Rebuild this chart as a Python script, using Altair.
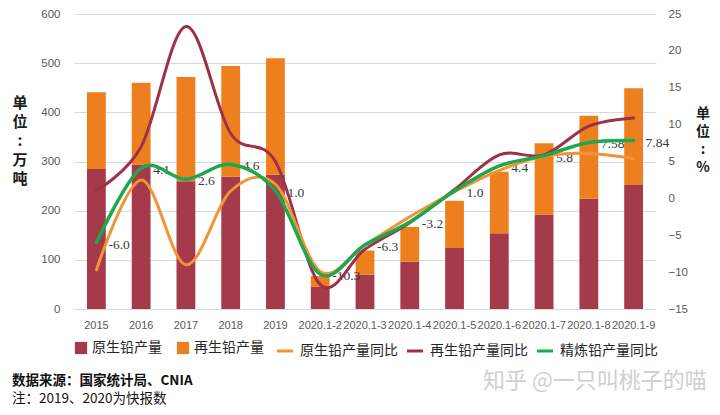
import altair as alt
import pandas as pd

categories = ["2015", "2016", "2017", "2018", "2019", "2020.1-2", "2020.1-3", "2020.1-4",
              "2020.1-5", "2020.1-6", "2020.1-7", "2020.1-8", "2020.1-9"]
primary_output = [285, 294, 260, 269, 273, 45, 70, 96, 124, 154, 192, 224, 252]
recycled_output = [156, 166, 212, 225, 237, 22, 49, 71, 96, 125, 145, 169, 197]
primary_yoy = [-9.7, 2.5, -9.0, 1.0, 1.9, -9.9, -6.3, -2.5, 0.9, 3.8, 5.7, 6.1, 5.4]
recycled_yoy = [1.1, 7.0, 23.3, 8.8, 5.0, -11.7, -6.9, -3.3, 1.2, 5.9, 5.9, 9.8, 10.9]
refined_yoy = [-6.0, 4.1, 2.6, 4.6, 1.0, -10.3, -6.3, -3.2, 1.0, 4.4, 5.8, 7.58, 7.84]
refined_labels = ["-6.0", "4.1", "2.6", "4.6", "1.0", "-10.3", "-6.3", "-3.2", "1.0",
                  "4.4", "5.8", "7.58", "7.84"]

bar_names = ["原生铅产量", "再生铅产量"]
line_names = ["原生铅产量同比", "再生铅产量同比", "精炼铅产量同比"]

bars_df = pd.DataFrame(
    [{"cat": c, "type": bar_names[0], "value": v} for c, v in zip(categories, primary_output)]
    + [{"cat": c, "type": bar_names[1], "value": v} for c, v in zip(categories, recycled_output)]
)
lines_df = pd.DataFrame(
    [{"cat": c, "series": line_names[0], "value": v} for c, v in zip(categories, primary_yoy)]
    + [{"cat": c, "series": line_names[1], "value": v} for c, v in zip(categories, recycled_yoy)]
    + [{"cat": c, "series": line_names[2], "value": v} for c, v in zip(categories, refined_yoy)]
)
labels_df = pd.DataFrame({"cat": categories, "value": refined_yoy, "label": refined_labels})

CJK = "Noto Sans CJK SC"
x_enc = alt.X("cat:N", sort=categories, title=None,
              scale=alt.Scale(paddingInner=0.58, paddingOuter=0.29),
              axis=alt.Axis(labelAngle=0, labelFont="Liberation Sans", labelFontSize=11,
                            labelColor="#595959", ticks=False, domain=False, labelPadding=10,
                            labelOverlap=False, grid=False))

bars = alt.Chart(bars_df).mark_bar().transform_calculate(
    ord="datum.type == '原生铅产量' ? 0 : 1"
).encode(
    x=x_enc,
    y=alt.Y("value:Q", title=None, stack="zero",
            scale=alt.Scale(domain=[0, 600], nice=False),
            axis=alt.Axis(orient="left", values=[0, 100, 200, 300, 400, 500, 600],
                          labelFont="Liberation Sans", labelFontSize=11.5, labelColor="#595959",
                          ticks=False, domain=False, labelPadding=14,
                          grid=True, gridColor="#d9d9d9", gridWidth=1)),
    color=alt.Color("type:N", scale=alt.Scale(domain=bar_names, range=["#A53A4B", "#EE7F1E"]),
                    legend=alt.Legend(title=None, orient="none", legendX=0, legendY=327,
                                      direction="horizontal", symbolType="square",
                                      symbolSize=150, symbolStrokeWidth=0,
                                      labelFont=CJK, labelFontSize=14, labelColor="#262626",
                                      columnPadding=14, labelOffset=4)),
    order=alt.Order("ord:Q"),
)

stroke_scale = alt.Scale(domain=line_names, range=["#F29435", "#9E3147", "#1DA84E"])
stroke_legend = alt.Legend(title=None, orient="none", legendX=201, legendY=327,
                           direction="horizontal", symbolType="stroke", symbolSize=260,
                           symbolStrokeWidth=3, labelFont=CJK, labelFontSize=14,
                           labelColor="#262626", columnPadding=2, labelOffset=5)
right_axis = alt.Axis(orient="right", values=list(range(-15, 30, 5)),
                      labelFont="Liberation Sans", labelFontSize=11.5,
                      labelColor="#595959", ticks=False, domain=False,
                      labelPadding=12, grid=False)
right_scale = alt.Scale(domain=[-15, 25], nice=False)

def line_layer(name, width):
    return alt.Chart(lines_df).transform_filter(alt.datum.series == name).mark_line(
        interpolate="cardinal", strokeWidth=width, strokeCap="round"
    ).encode(
        x=alt.X("cat:N", sort=categories),
        y=alt.Y("value:Q", title=None, scale=right_scale, axis=right_axis),
        stroke=alt.Stroke("series:N", scale=stroke_scale, legend=stroke_legend),
    )

labels = alt.Chart(labels_df).mark_text(
    align="left", baseline="middle", dx=12, dy=2, font="Liberation Serif", fontSize=13.5,
    color="#3a3a3a"
).encode(
    x=alt.X("cat:N", sort=categories),
    y=alt.Y("value:Q", title=None, scale=right_scale, axis=right_axis),
    text="label:N",
)

one = alt.Data(values=[{"a": 1}])
left_title = alt.Chart(one).mark_text(
    text=["单", "位", ":", "万", "吨"], align="center", baseline="top", lineHeight=19,
    font=CJK, fontSize=15, fontWeight="bold", color="#1a1a1a"
).encode(x=alt.value(-54), y=alt.value(82))
right_title = alt.Chart(one).mark_text(
    text=["单", "位", ":", "%"], align="center", baseline="top", lineHeight=18,
    font=CJK, fontSize=14, fontWeight="bold", color="#1a1a1a"
).encode(x=alt.value(629), y=alt.value(93))
note1 = alt.Chart(one).mark_text(
    text="数据来源：国家统计局、CNIA", align="left", baseline="middle",
    font=CJK, fontSize=13.5, fontWeight="bold", color="#111111"
).encode(x=alt.value(-62), y=alt.value(367))
note2 = alt.Chart(one).mark_text(
    text="注：2019、2020为快报数", align="left", baseline="middle",
    font=CJK, fontSize=13.5, color="#111111"
).encode(x=alt.value(-62), y=alt.value(385))
watermark = alt.Chart(one).mark_text(
    text="知乎 @一只叫桃子的喵", align="left", baseline="middle",
    font=CJK, fontSize=22, color="#cfcfcf"
).encode(x=alt.value(409), y=alt.value(367))

left_group = alt.layer(bars, left_title, note1, note2, watermark)
right_group = alt.layer(labels, line_layer(line_names[1], 3),
                        line_layer(line_names[0], 3), line_layer(line_names[2], 3.5),
                        right_title)

chart = alt.layer(left_group, right_group).resolve_scale(
    y="independent", color="independent", stroke="independent"
).properties(
    width=582, height=295,
    autosize=alt.AutoSizeParams(type="none"),
    padding={"left": 66, "top": 6, "right": 56, "bottom": 98},
    background="white",
).configure_view(stroke=None)

chart.save("out.html", embed_options={"renderer": "svg", "actions": False})
